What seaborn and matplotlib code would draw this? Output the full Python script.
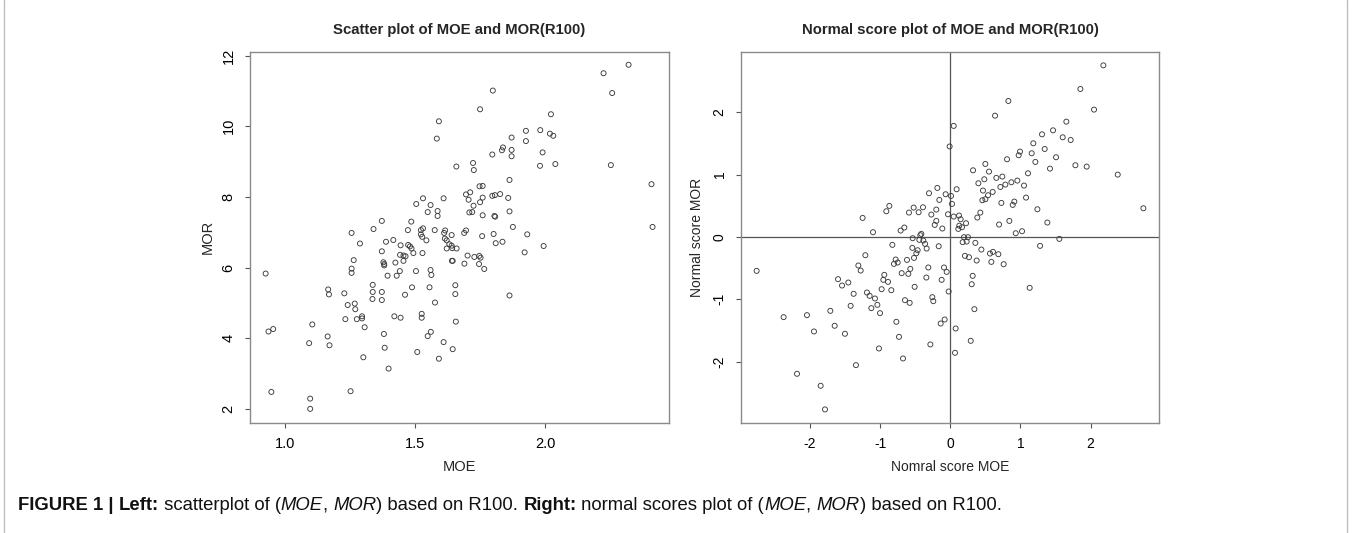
import matplotlib
matplotlib.use("Agg")
import matplotlib.pyplot as plt
from matplotlib import font_manager
from matplotlib.lines import Line2D
import seaborn as sns
import numpy as np

# ---------------- data ----------------
moe = [1.591, 1.583, 1.530, 1.504, 1.559, 1.548, 1.586, 1.586, 1.372, 1.485, 1.340, 1.530,
       1.609, 1.658, 2.319, 2.223, 2.256, 1.798, 1.749, 2.021, 1.925, 1.980, 2.017, 2.030,
       1.870, 1.925, 1.837, 1.833, 1.870, 1.796, 1.870, 1.989, 1.722, 1.725, 1.979, 2.038,
       2.251, 1.862, 2.407, 1.747, 1.759, 1.695, 1.711, 1.705, 1.724, 1.759, 1.749, 1.796,
       1.806, 1.826, 1.857, 1.862, 1.708, 1.719, 1.759, 1.804, 1.807, 1.875, 2.411,
       1.930, 1.757, 1.801, 1.809, 1.835, 1.993, 1.920, 1.688, 1.695, 1.615, 1.611, 1.640,
       1.614, 1.621, 1.631, 1.640, 1.621, 1.642, 1.659, 1.701, 1.727, 1.746, 1.751, 1.641,
       1.644, 1.689, 1.745, 1.765, 1.654, 1.654, 1.862, 1.656, 1.609, 1.644,
       1.256, 1.472, 1.522, 1.575, 1.522, 1.527, 1.543, 1.288, 1.388, 1.416, 1.444, 1.473,
       1.480, 1.486, 1.493, 1.442, 1.455, 1.463, 1.528, 1.372, 1.264, 1.378, 1.381, 1.381,
       1.424, 1.455, 1.256, 1.256, 1.441, 1.394, 1.429, 1.503, 1.559, 1.562, 1.555, 1.488,
       1.461, 1.576, 1.337, 1.337, 1.372, 1.336, 1.372, 1.228, 1.166, 1.169, 1.268, 1.241,
       1.270, 1.232, 1.276, 1.296, 1.296, 1.306, 1.105, 1.164, 1.093, 1.171, 0.937, 0.955,
       0.926, 0.948, 1.252, 1.097, 1.097, 1.301, 1.398, 1.380, 1.383, 1.420, 1.444, 1.525,
       1.525, 1.508, 1.548, 1.560, 1.591]
mor = [10.14, 9.65, 7.96, 7.80, 7.77, 7.57, 7.60, 7.46, 7.32, 7.30, 7.09, 7.11,
       7.96, 8.86, 11.74, 11.50, 10.94, 11.01, 10.48, 10.34, 9.87, 9.89, 9.79, 9.73,
       9.68, 9.58, 9.40, 9.32, 9.33, 9.20, 9.15, 9.26, 8.96, 8.76, 8.88, 8.93,
       8.90, 8.48, 8.36, 8.30, 8.31, 8.07, 8.13, 7.92, 7.75, 7.98, 7.85, 8.03,
       8.05, 8.08, 7.97, 7.59, 7.56, 7.57, 7.48, 7.46, 7.44, 7.15, 7.15,
       6.94, 6.89, 6.95, 6.69, 6.73, 6.61, 6.43, 6.98, 7.05, 7.05, 6.98, 6.92,
       6.82, 6.77, 6.66, 6.62, 6.54, 6.55, 6.54, 6.34, 6.30, 6.33, 6.28, 6.19,
       6.19, 6.11, 6.10, 5.96, 5.50, 5.25, 5.21, 4.47, 3.89, 3.69,
       6.98, 7.06, 7.06, 7.06, 6.94, 6.87, 6.77, 6.68, 6.73, 6.78, 6.63, 6.64,
       6.60, 6.54, 6.41, 6.36, 6.34, 6.32, 6.41, 6.46, 6.21, 6.15, 6.10, 6.06,
       6.14, 6.19, 5.97, 5.85, 5.90, 5.77, 5.77, 5.90, 5.93, 5.79, 5.44, 5.44,
       5.23, 5.01, 5.51, 5.31, 5.31, 5.11, 5.08, 5.27, 5.38, 5.24, 4.98, 4.94,
       4.82, 4.54, 4.54, 4.62, 4.56, 4.31, 4.39, 4.05, 3.86, 3.80, 4.19, 4.26,
       5.83, 2.48, 2.50, 2.29, 2.00, 3.46, 3.14, 4.12, 3.73, 4.62, 4.58, 4.69,
       4.58, 3.61, 4.06, 4.18, 3.42]

ns_moe = [0.048, -0.010, -0.185, -0.304, -0.067, 0.090, 0.010, -0.157, -0.870, -0.913,
          -0.390, -0.452, -0.200, -0.271, 0.024, -0.033, 0.048, 0.124, 0.147, -0.200,
          -0.223, -0.114, 0.128, 0.114, 0.224, 0.166, -1.251, -0.656, -0.590, -0.523,
          2.183, 1.855, 2.050, 0.828, 0.638, 1.655, 1.465, 1.308, 1.603, 1.717,
          1.184, 1.346, 0.994, 0.975, 1.161, 1.508, 0.809, 1.213, 1.784, 1.945,
          1.422, 2.388, 0.324, 0.500, 0.552, 0.400, 0.485, 0.656, 0.742, 1.108,
          0.714, 0.785, 0.871, 0.956, 1.051, 0.466, 0.604, 0.538, 0.500, 0.457,
          1.080, 0.728, 0.890, 0.913, 1.242, 0.428, 0.385, 0.842, 0.695, 1.384, 2.754,
          0.933, 1.023, 1.555, 1.280, 0.357, 0.443, 0.566, 0.609, 0.685, 0.585,
          0.376, 0.761, 0.319, 0.305, 1.132, 0.343, 0.291,
          -2.763, -2.378, -2.045, -1.712, -1.945, -1.650, -1.503, -2.187, -1.850, -1.788,
          -1.602, -1.545, -1.455, -1.379, -1.422, -1.346, -1.312, -1.279, -1.212, -1.103,
          -1.189, -1.151, -1.075, -1.127, -1.041, -1.003, -1.018, -0.942, -0.956, -0.889,
          -0.980, -0.842, -0.827, -0.804, -0.780, -0.751, -0.770, -0.732, -0.675, -0.709,
          -0.694, -0.647, -0.618, -0.599, -0.580, -0.571, -0.542, -0.518, -0.537, -0.509,
          -0.485, -0.466, -0.442, -0.428, -0.414, -0.385, -0.361, -0.338, -0.314, -0.342,
          -0.257, -0.243, -0.285, -0.166, -0.124, -0.138, -0.081, -0.090, -0.052, -0.024,
          0.076, 0.067, 0.176, 0.209, 0.195, 0.252, 0.233, 0.266]
ns_mor = [1.78, 1.45, 0.785, 0.70, 0.684, 0.764, 0.657, 0.593, 0.497, 0.411,
          0.475, 0.395, 0.438, 0.358, 0.529, 0.363, 0.326, 0.342, 0.283, 0.256,
          0.192, 0.134, 0.18, 0.128, 0.219, 0.155, 0.304, 0.150, 0.390, 0.470,
          2.751, 2.372, 2.041, 2.180, 1.944, 1.848, 1.709, 1.645, 1.597, 1.554,
          1.501, 1.410, 1.368, 1.309, 1.341, 1.277, 1.245, 1.202, 1.149, 1.127,
          1.095, 0.999, 1.068, 1.170, 1.047, 0.860, 0.924, 0.946, 0.967, 1.020,
          0.801, 0.839, 0.876, 0.903, 0.823, 0.743, 0.721, 0.668, 0.604, 0.588,
          0.630, 0.545, 0.513, 0.566, 0.443, 0.390, 0.310, 0.256, 0.198, 0.230, 0.459,
          0.059, 0.091, -0.032, -0.144, -0.096, -0.203, -0.267, -0.240, -0.278, -0.401,
          -0.379, -0.438, -0.625, -0.759, -0.817, -1.159, -1.667,
          -0.545, -1.287, -1.255, -1.186, -1.517, -1.426, -1.554, -2.196, -2.388, -2.767,
          -0.678, -0.780, -0.732, -0.913, -1.106, -2.057, -0.459, -0.540, -0.294, 0.075,
          -0.892, -0.946, -0.988, -1.143, -1.090, -1.223, -1.790, -0.609, -0.689, -0.721,
          -0.839, -0.855, -0.128, -0.433, -0.363, -0.411, -1.362, -1.603, -1.950, 0.101,
          -0.582, -1.015, -0.369, -0.593, -1.058, -0.513, -0.176, -0.337, -0.021, -0.801,
          -0.262, -0.214, -0.048, 0.027, 0.048, -0.059, -0.112, -0.187, -0.491, -0.652,
          -0.967, -1.031, -1.725, -0.150, -0.689, -1.389, -1.325, -0.491, -0.561, -0.876,
          -1.469, -1.859, -0.085, -0.304, -0.005, -0.005, -0.075, -0.326]

left_xticks = [1.0, 1.5, 2.0]
left_xticklabels = ["1.0", "1.5", "2.0"]
left_yticks = [2, 4, 6, 8, 10, 12]
right_ticks = [-2, -1, 0, 1, 2]

# ---------------- style ----------------
sns.set_theme(style="ticks")
plt.rcParams['font.family'] = ['Liberation Sans', 'DejaVu Sans']
names = {f.name for f in font_manager.fontManager.ttflist}
narrow = 'Liberation Sans Narrow' if 'Liberation Sans Narrow' in names else 'Liberation Sans'

W, H = 1356, 533
fig = plt.figure(figsize=(W / 100, H / 100), dpi=100)
fig.patch.set_facecolor('white')

def box(x0, y0, x1, y1):
    return [x0 / W, 1 - y1 / H, (x1 - x0) / W, (y1 - y0) / H]

ax1 = fig.add_axes(box(250, 51.7, 668.7, 423))
ax2 = fig.add_axes(box(741, 51.7, 1159.3, 423))

frame_col = '#8a8a8a'
pt_col = '#3c3c3c'

for ax in (ax1, ax2):
    for sp in ax.spines.values():
        sp.set_visible(True)
        sp.set_color(frame_col)
        sp.set_linewidth(1.0)
    ax.set_facecolor('white')
    ax.grid(False)
    ax.tick_params(direction='out', length=3.8, width=0.8, color='#555555',
                   labelcolor='black', pad=6.5)

# left scatter
sns.scatterplot(x=moe, y=mor, ax=ax1, s=13, facecolor='none', edgecolor=pt_col,
                linewidth=0.65, legend=False)
ax1.set_xlim(0.866, 2.473)
ax1.set_ylim(1.6, 12.11)
ax1.set_xticks(left_xticks)
ax1.set_xticklabels(left_xticklabels, fontsize=10.5, family=narrow)
ax1.set_yticks(left_yticks)
ax1.set_yticklabels([str(v) for v in left_yticks], fontsize=10.5, rotation=90, va='center')
ax1.set_xlabel("MOE", fontsize=10.5, family=narrow, labelpad=6)
ax1.set_ylabel("MOR", fontsize=10.5, labelpad=5)
ax1.set_title("Scatter plot of MOE and MOR(R100)", fontsize=10.7, fontweight='bold', pad=12.5)

# right normal score plot
ax2.axhline(0, color='#555555', lw=0.9, zorder=1)
ax2.axvline(0, color='#555555', lw=0.9, zorder=1)
sns.scatterplot(x=ns_moe, y=ns_mor, ax=ax2, s=13, facecolor='none', edgecolor=pt_col,
                linewidth=0.65, legend=False, zorder=3)
ax2.set_xlim(-2.986, 2.981)
ax2.set_ylim(-2.985, 2.97)
ax2.set_xticks(right_ticks)
ax2.set_xticklabels([str(v) for v in right_ticks], fontsize=10)
ax2.set_yticks(right_ticks)
ax2.set_yticklabels([str(v) for v in right_ticks], fontsize=10, rotation=90, va='center')
ax2.set_xlabel("Nomral score MOE", fontsize=10, labelpad=6)
ax2.set_ylabel("Normal score MOR", fontsize=10, labelpad=6)
ax2.set_title("Normal score plot of MOE and MOR(R100)", fontsize=10.7, fontweight='bold', pad=12.5)

# border lines
for xp in (4, 1347):
    fig.add_artist(Line2D([xp / W, xp / W], [0, 1], color='#bdbdbd', lw=1.0))

# caption with mixed styles
pieces = [("FIGURE 1 | ", 'bold', 'normal'), ("Left:", 'bold', 'normal'),
          (" scatterplot of (", 'normal', 'normal'), ("MOE", 'normal', 'italic'),
          (", ", 'normal', 'normal'), ("MOR", 'normal', 'italic'),
          (") based on R100. ", 'normal', 'normal'), ("Right:", 'bold', 'normal'),
          (" normal scores plot of (", 'normal', 'normal'), ("MOE", 'normal', 'italic'),
          (", ", 'normal', 'normal'), ("MOR", 'normal', 'italic'),
          (") based on R100.", 'normal', 'normal')]

fig.canvas.draw()
renderer = fig.canvas.get_renderer()

def draw_caption(size):
    x = 18.0
    arts = []
    for txt, wt, st in pieces:
        t = fig.text(x / W, 1 - 506 / H, txt, fontsize=size, fontweight=wt, fontstyle=st,
                     family=narrow, va='center', ha='left', color='#111111')
        bb = t.get_window_extent(renderer)
        x += bb.width
        arts.append(t)
    return x, arts

end, arts = draw_caption(13)
for a in arts:
    a.remove()
size = 13 * (999 - 18) / (end - 18)
draw_caption(size)

fig.savefig("out.png", dpi=100, facecolor='white')
